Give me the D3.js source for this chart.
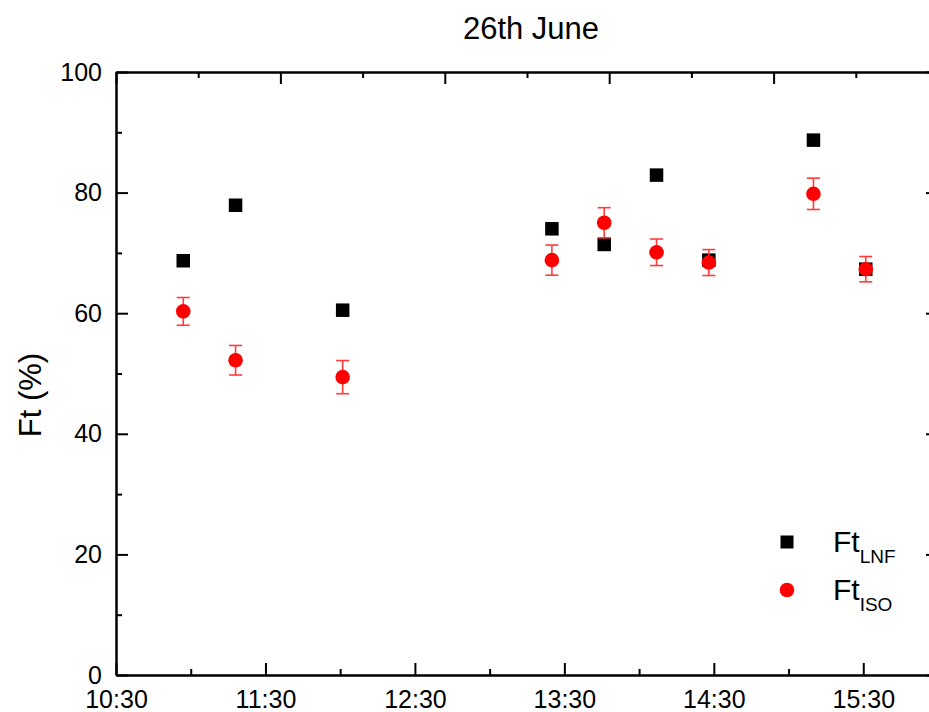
<!DOCTYPE html>
<html>
<head>
<meta charset="utf-8">
<script src="https://cdn.jsdelivr.net/npm/d3@7"></script>
<style>
  html, body { margin: 0; padding: 0; background: #fff; }
  svg { display: block; font-family: "Liberation Sans", Arial, sans-serif; }
</style>
</head>
<body>
<svg id="chart" width="929" height="712"></svg>
<script>
// Sampling times (hh:mm) on 26th June
const times = ["10:57", "11:18", "12:01", "13:25", "13:46", "14:07", "14:28", "15:10", "15:31"];
// Ft measured with the LNF method (%)
const ftLNF = [68.7, 77.9, 60.5, 74.0, 71.4, 82.9, 68.8, 88.7, 67.3];
// Ft measured with the ISO method (%) and its uncertainty
const ftISO = [60.3, 52.2, 49.4, 68.8, 75.0, 70.1, 68.4, 79.8, 67.3];
const isoErr = [2.3, 2.45, 2.75, 2.5, 2.5, 2.2, 2.15, 2.6, 2.1];
// Axis ranges and ticks
const timeStart = "10:30", timeEnd = "16:00";
const yTicksMajor = [0, 20, 40, 60, 80, 100];
const yTicksMinor = [10, 30, 50, 70, 90];
const titleText = "26th June";
const yLabel = "Ft (%)";
const legendItems = [
  { base: "Ft", sub: "LNF", shape: "square" },
  { base: "Ft", sub: "ISO", shape: "circle" }
];

const parseT = d3.timeParse("%H:%M");
const fmtT = d3.timeFormat("%H:%M");

const svg = d3.select("#chart");
const M = { left: 116, right: 938, top: 72, bottom: 675 };

const x = d3.scaleTime().domain([parseT(timeStart), parseT(timeEnd)]).range([M.left, M.right]);
const y = d3.scaleLinear().domain([0, 100]).range([M.bottom, M.top]);
// plain frame scale for the unlabeled top axis
const xTop = d3.scaleLinear().domain([0, 10]).range([M.left, M.right]);

const FONT = 25;
const majorLen = 12, minorLen = 6;

function styleAxis(g) {
  g.selectAll("path.domain").attr("stroke", "#000").attr("stroke-width", 2);
  g.selectAll(".tick line").attr("stroke", "#000").attr("stroke-width", 2);
  g.selectAll(".tick text").attr("fill", "#000").attr("font-size", FONT).attr("font-family", "Liberation Sans, Arial, sans-serif");
}

// bottom axis
const hourTicks = d3.range(0, 6).map(i => d3.timeMinute.offset(parseT(timeStart), 60 * i));
const halfTicks = d3.range(0, 6).map(i => d3.timeMinute.offset(parseT(timeStart), 60 * i + 30));
svg.append("g").attr("transform", `translate(0,${M.bottom})`)
  .call(d3.axisBottom(x).tickValues(halfTicks).tickSizeInner(-minorLen).tickSizeOuter(0).tickFormat(""))
  .call(styleAxis);
const gx = svg.append("g").attr("transform", `translate(0,${M.bottom})`)
  .call(d3.axisBottom(x).tickValues(hourTicks).tickSizeInner(-majorLen).tickSizeOuter(0).tickPadding(15).tickFormat(fmtT))
  .call(styleAxis);
gx.selectAll(".tick text").attr("dy", "0.71em");

// top axis (frame)
svg.append("g").attr("transform", `translate(0,${M.top})`)
  .call(d3.axisTop(xTop).tickValues(d3.range(1, 10, 2)).tickSizeInner(-minorLen).tickSizeOuter(0).tickFormat(""))
  .call(styleAxis);
svg.append("g").attr("transform", `translate(0,${M.top})`)
  .call(d3.axisTop(xTop).tickValues(d3.range(0, 11, 2)).tickSizeInner(-majorLen).tickSizeOuter(0).tickFormat(""))
  .call(styleAxis);

// left axis
svg.append("g").attr("transform", `translate(${M.left},0)`)
  .call(d3.axisLeft(y).tickValues(yTicksMinor).tickSizeInner(-minorLen).tickSizeOuter(0).tickFormat(""))
  .call(styleAxis);
svg.append("g").attr("transform", `translate(${M.left},0)`)
  .call(d3.axisLeft(y).tickValues(yTicksMajor).tickSizeInner(-majorLen).tickSizeOuter(0).tickPadding(14).tickFormat(d3.format("d")))
  .call(styleAxis);

// right axis (frame)
svg.append("g").attr("transform", `translate(${M.right},0)`)
  .call(d3.axisRight(y).tickValues(yTicksMinor).tickSizeInner(-minorLen).tickSizeOuter(0).tickFormat(""))
  .call(styleAxis);
svg.append("g").attr("transform", `translate(${M.right},0)`)
  .call(d3.axisRight(y).tickValues(yTicksMajor).tickSizeInner(-majorLen).tickSizeOuter(0).tickFormat(""))
  .call(styleAxis);

// title and y label
svg.append("text").attr("x", 531).attr("y", 39).attr("text-anchor", "middle")
  .attr("font-size", 31).attr("fill", "#000").text(titleText);
svg.append("text").attr("transform", "translate(41,395) rotate(-90)").attr("text-anchor", "middle")
  .attr("font-size", 31).attr("fill", "#000").text(yLabel);

const rows = times.map((t, i) => ({ t: parseT(t), lnf: ftLNF[i], iso: ftISO[i], err: isoErr[i] }));

const SQ = 13.5, R = 7.3, CAP = 6.5;
const RED = "#ff0000", ERR = "#ff3b3b";

// LNF squares
svg.append("g").selectAll("rect").data(rows).join("rect")
  .attr("x", d => x(d.t) - SQ / 2).attr("y", d => y(d.lnf) - SQ / 2)
  .attr("width", SQ).attr("height", SQ).attr("fill", "#000");

// ISO error bars
const eb = svg.append("g").attr("stroke", ERR).attr("stroke-width", 1.6).attr("fill", "none");
eb.selectAll("line.v").data(rows).join("line").attr("class", "v")
  .attr("x1", d => x(d.t)).attr("x2", d => x(d.t))
  .attr("y1", d => y(d.iso - d.err)).attr("y2", d => y(d.iso + d.err));
eb.selectAll("line.top").data(rows).join("line").attr("class", "top")
  .attr("x1", d => x(d.t) - CAP).attr("x2", d => x(d.t) + CAP)
  .attr("y1", d => y(d.iso + d.err)).attr("y2", d => y(d.iso + d.err));
eb.selectAll("line.bot").data(rows).join("line").attr("class", "bot")
  .attr("x1", d => x(d.t) - CAP).attr("x2", d => x(d.t) + CAP)
  .attr("y1", d => y(d.iso - d.err)).attr("y2", d => y(d.iso - d.err));

// ISO circles
svg.append("g").selectAll("circle").data(rows).join("circle")
  .attr("cx", d => x(d.t)).attr("cy", d => y(d.iso)).attr("r", R).attr("fill", RED);

// legend
const lg = svg.append("g");
legendItems.forEach((it, i) => {
  const cy = 542 + i * 48;
  if (it.shape === "square") {
    lg.append("rect").attr("x", 787 - 6.5).attr("y", cy - 6.5).attr("width", 13).attr("height", 13).attr("fill", "#000");
  } else {
    lg.append("circle").attr("cx", 787).attr("cy", cy).attr("r", 7.3).attr("fill", RED);
  }
  const txt = lg.append("text").attr("x", 833).attr("y", cy + 10).attr("fill", "#000").attr("font-size", 30);
  txt.append("tspan").text(it.base);
  txt.append("tspan").attr("font-size", 19).attr("dy", 11).text(it.sub);
});
</script>
</body>
</html>
